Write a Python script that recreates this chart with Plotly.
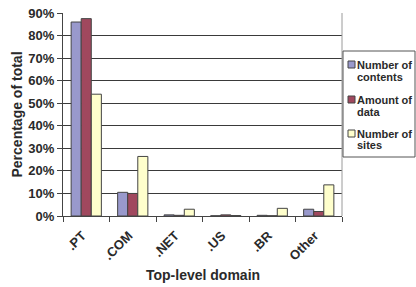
import plotly.graph_objects as go

categories = [".PT", ".COM", ".NET", ".US", ".BR", "Other"]
series_names = ["Number of contents", "Amount of data", "Number of sites"]
legend_lines = [["Number of", "contents"], ["Amount of", "data"], ["Number of", "sites"]]
number_of_contents = [86.0, 10.5, 0.5, 0.1, 0.3, 3.0]
amount_of_data = [87.5, 10.0, 0.3, 0.5, 0.1, 2.0]
number_of_sites = [54.0, 26.4, 3.0, 0.2, 3.4, 13.8]
y_ticks = [0, 10, 20, 30, 40, 50, 60, 70, 80, 90]
y_ticklabels = [f"{v}%" for v in y_ticks]
x_title = "Top-level domain"
y_title = "Percentage of total"

colors = ["#9999CC", "#A0485E", "#FFFFCC"]
values = [number_of_contents, amount_of_data, number_of_sites]

FONT = "Liberation Sans, Arial, sans-serif"
TXT = "#2a2a2a"

fig = go.Figure()
for name, vals, col in zip(series_names, values, colors):
    fig.add_trace(go.Bar(
        x=categories, y=vals, name=name, showlegend=False,
        marker=dict(color=col, line=dict(color="#444444", width=1)),
    ))

W, H = 416, 287
L, T, R, B = 63, 13, 416 - 342, 287 - 216
pw, ph = W - L - R, H - T - B

def px_x(p):
    return (p - L) / pw

def px_y(p):
    return (H - B - p) / ph

shapes = [
    dict(type="line", xref="paper", yref="paper", x0=1, x1=1, y0=0, y1=1,
         line=dict(color="#9a9a9a", width=1)),
    dict(type="rect", xref="paper", yref="paper",
         x0=px_x(343), x1=px_x(415), y0=px_y(157), y1=px_y(51),
         line=dict(color="#555555", width=1), fillcolor="white"),
]
annotations = []
entry_tops = [61, 96, 130]
for lines, col, top in zip(legend_lines, colors, entry_tops):
    shapes.append(dict(type="rect", xref="paper", yref="paper",
                       x0=px_x(348), x1=px_x(355), y0=px_y(top + 7), y1=px_y(top),
                       fillcolor=col, line=dict(color="#444444", width=1)))
    for i, ln in enumerate(lines):
        annotations.append(dict(
            text=f"<b>{ln}</b>", xref="paper", yref="paper",
            x=px_x(355), y=px_y(top + 3.5 + 12 * i), xanchor="left", yanchor="middle",
            showarrow=False, font=dict(family=FONT, size=11, color=TXT),
        ))

# x-axis title
annotations.append(dict(
    text=f"<b>{x_title}</b>", xref="paper", yref="paper",
    x=px_x(203), y=px_y(275), xanchor="center", yanchor="middle",
    showarrow=False, font=dict(family=FONT, size=14, color=TXT),
))

fig.update_layout(
    width=W, height=H,
    margin=dict(l=L, r=R, t=T, b=B, pad=0),
    paper_bgcolor="white", plot_bgcolor="white",
    barmode="group", bargap=0.35, bargroupgap=0,
    font=dict(family=FONT, size=13, color=TXT),
    shapes=shapes, annotations=annotations,
    xaxis=dict(
        range=[-0.5, 5.5],
        tickson="boundaries", ticks="outside", ticklen=5,
        tickcolor="#444444", showline=True, linecolor="#444444", linewidth=1,
        tickangle=-45, ticklabelstandoff=6, ticklabelshift=-4,
        tickfont=dict(family=FONT, size=13, color=TXT, weight="bold"),
        automargin=False, showgrid=False,
    ),
    yaxis=dict(
        range=[0, 90], tickvals=y_ticks, ticktext=y_ticklabels,
        ticks="outside", ticklen=5, tickcolor="#444444",
        showline=True, linecolor="#444444", linewidth=1,
        showgrid=True, gridcolor="#3a3a3a", gridwidth=1,
        tickfont=dict(family=FONT, size=13, color=TXT, weight="bold"),
        ticklabeloverflow="allow",
        title=dict(text=f"<b>{y_title}</b>", font=dict(size=14), standoff=2),
        automargin=False, zeroline=False,
    ),
)

fig.write_html("out.html", config={"displayModeBar": False, "staticPlot": True},
               post_script="document.body.style.margin='0';")
